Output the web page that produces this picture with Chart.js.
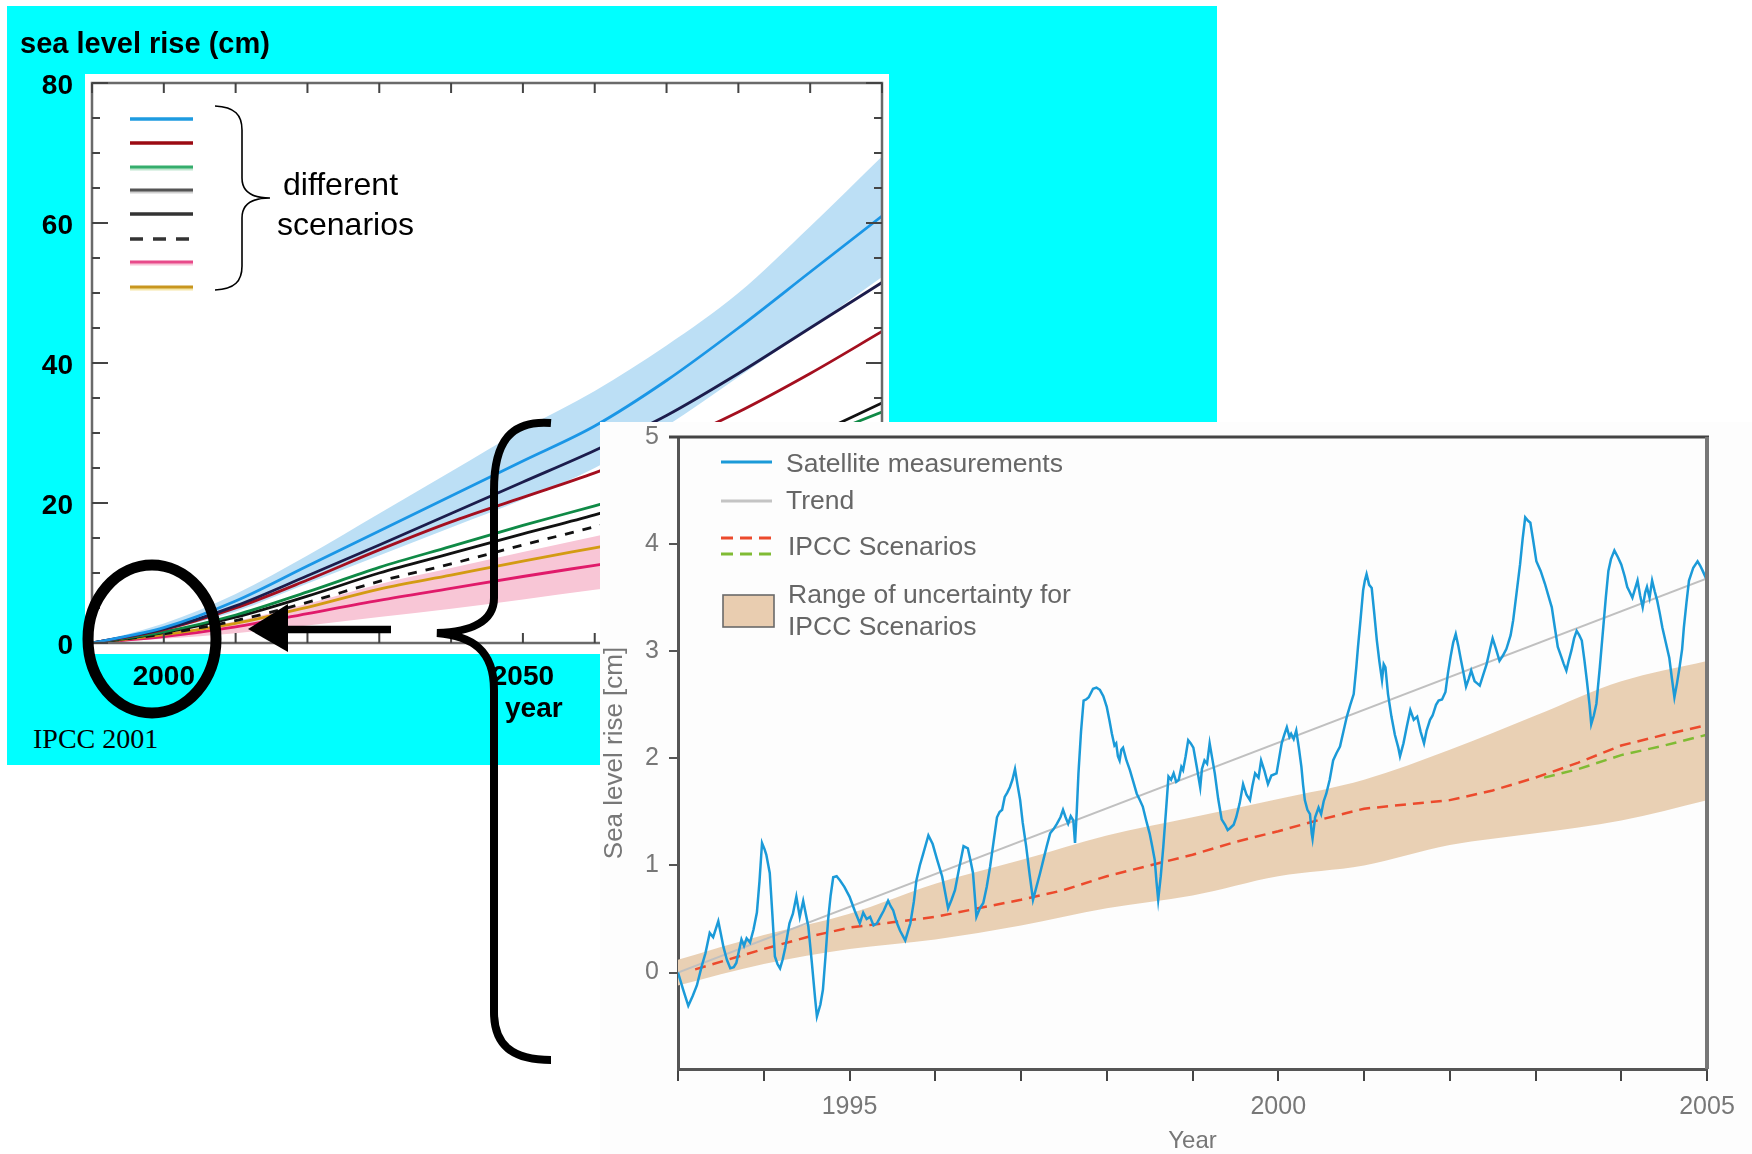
<!DOCTYPE html>
<html>
<head>
<meta charset="utf-8">
<title>Sea level rise</title>
<script src="https://cdn.jsdelivr.net/npm/chart.js@4.4.0/dist/chart.umd.min.js"></script>
<style>
  html, body { margin: 0; padding: 0; background: #fff; }
  body { width: 1752px; height: 1154px; position: relative; overflow: hidden;
         font-family: "Liberation Sans", Arial, sans-serif; }
  #cyan { position: absolute; left: 7px; top: 6px; width: 1210px; height: 759px; background: #00ffff; }
  #leftWrap { position: absolute; left: 0; top: 0; }
  #panel { position: absolute; left: 600px; top: 422px; width: 1152px; height: 732px; background: #fdfdfd; }
  #rightWrap { position: absolute; left: 600px; top: 412px; }
  .txt { position: absolute; white-space: nowrap; line-height: 1; }
  #over { position: absolute; left: 0; top: 0; pointer-events: none; }
</style>
</head>
<body>
<div id="cyan"></div>
<div id="leftWrap"><canvas id="leftChart" width="900" height="700"></canvas></div>

<div class="txt" style="left:20px; top:29px; font-size:29px; font-weight:bold;">sea level rise (cm)</div>
<div class="txt" style="left:283px; top:168px; font-size:32px;">different</div>
<div class="txt" style="left:277px; top:208px; font-size:32px;">scenarios</div>
<div class="txt" style="left:505px; top:694px; font-size:28px; font-weight:bold;">year</div>
<div class="txt" style="left:33px; top:725px; font-size:28px; font-family:'Liberation Serif','Times New Roman',serif;">IPCC 2001</div>

<div id="panel"></div>
<div id="rightWrap"><canvas id="rightChart" width="1152" height="742"></canvas></div>

<div class="txt" style="left:786px; top:450px; font-size:26.5px; color:#666;">Satellite measurements</div>
<div class="txt" style="left:786px; top:487px; font-size:26.5px; color:#666;">Trend</div>
<div class="txt" style="left:788px; top:533px; font-size:26.5px; color:#666;">IPCC Scenarios</div>
<div class="txt" style="left:788px; top:581px; font-size:26.5px; color:#666;">Range of uncertainty for</div>
<div class="txt" style="left:788px; top:613px; font-size:26.5px; color:#666;">IPCC Scenarios</div>

<svg id="over" width="1752" height="1154" viewBox="0 0 1752 1154">
  <!-- left legend swatches -->
  <line x1="130" y1="119" x2="193" y2="119" stroke="#1e9be0" stroke-width="3.5"/>
  <line x1="130" y1="143" x2="193" y2="143" stroke="#9b0a12" stroke-width="3.5"/>
  <line x1="130" y1="169" x2="193" y2="169" stroke="#bfe6cf" stroke-width="3"/>
  <line x1="130" y1="167" x2="193" y2="167" stroke="#35ad6c" stroke-width="3"/>
  <line x1="130" y1="192" x2="193" y2="192" stroke="#cfcfcf" stroke-width="3"/>
  <line x1="130" y1="190" x2="193" y2="190" stroke="#555" stroke-width="3"/>
  <line x1="130" y1="214" x2="193" y2="214" stroke="#333" stroke-width="3.5"/>
  <line x1="130" y1="239" x2="190" y2="239" stroke="#333" stroke-width="3.5" stroke-dasharray="13 10"/>
  <line x1="130" y1="264" x2="193" y2="264" stroke="#f8c6d8" stroke-width="3"/>
  <line x1="130" y1="262" x2="193" y2="262" stroke="#e84a8a" stroke-width="3"/>
  <line x1="130" y1="289" x2="193" y2="289" stroke="#f5e6a6" stroke-width="3"/>
  <line x1="130" y1="287" x2="193" y2="287" stroke="#c8961e" stroke-width="3"/>
  <path d="M215 106 C235 107 242 115 242 130 L242 178 C242 192 252 198 270 198 C252 198 242 204 242 218 L242 266 C242 281 235 289 215 290" fill="none" stroke="#000" stroke-width="1.6"/>

  <!-- right legend swatches -->
  <line x1="721" y1="462" x2="772" y2="462" stroke="#1b9ad8" stroke-width="3"/>
  <line x1="721" y1="501" x2="772" y2="501" stroke="#c4c4c4" stroke-width="3"/>
  <line x1="721" y1="538" x2="774" y2="538" stroke="#ec4a2c" stroke-width="3" stroke-dasharray="12 7"/>
  <line x1="721" y1="554" x2="774" y2="554" stroke="#80bb34" stroke-width="3" stroke-dasharray="12 7"/>
  <rect x="723" y="595" width="51" height="32" fill="#e9cdb0" stroke="#6a6a6a" stroke-width="1.6"/>

  <!-- annotations -->
  <ellipse cx="152" cy="639" rx="64" ry="74" fill="none" stroke="#000" stroke-width="11"/>
  <line x1="391" y1="629.5" x2="284" y2="629.5" stroke="#000" stroke-width="7.5"/>
  <polygon points="248,629 288,604 288,652" fill="#000"/>
  <path d="M551 423 C512 420 494 440 494 490 L494 598 C494 622 470 632 437 633 C472 636 494 650 494 690 L494 1012 C494 1045 512 1060 551 1060" fill="none" stroke="#000" stroke-width="8"/>
</svg>

<script>
// ---------- left chart (IPCC 2001 projections) ----------
const leftYears = [1990, 2000, 2010, 2020, 2030, 2040, 2050, 2060, 2070, 2080, 2090, 2100];
const blueUpper = [0, 2.8, 7, 12.5, 18.5, 24.5, 30.5, 36, 42.5, 50, 59.5, 69.5];
const blueLine  = [0, 2.2, 6, 11, 16, 21, 26, 31, 37.5, 45, 53, 61];
const blueLower = [0, 1.8, 4.5, 8.5, 12.5, 16.5, 20.5, 25, 31, 38, 45, 52.3];
const navyLine  = [0, 2.0, 5.3, 9.6, 14, 18.5, 23, 27.5, 32.5, 38.5, 45, 51.5];
const redLine   = [0, 1.9, 5, 9, 13.3, 17.3, 20.8, 24.3, 28.3, 33, 38.5, 44.5];
const greenLine = [0, 1.6, 4, 7.3, 10.8, 13.8, 16.8, 19.6, 22.5, 25.5, 29, 33];
const blackLine = [0, 1.5, 3.7, 6.7, 10, 12.8, 15.6, 18.3, 21.4, 25, 29.5, 34.3];
const dashLine  = [0, 1.3, 3.2, 5.8, 8.8, 11.3, 14, 16.6, 19.2, 22, 25, 28];
const goldLine  = [0, 1.2, 2.8, 5.1, 7.7, 9.7, 11.7, 13.6, 15.5, 17.5, 19.6, 21.8];
const pinkLine  = [0, 0.9, 2.3, 4.2, 6.1, 7.8, 9.5, 11.1, 12.7, 14.3, 16, 17.7];
const pinkUpper = [0, 1.3, 3.1, 5.6, 8.4, 10.7, 13, 15.2, 17.5, 19.8, 22, 24.5];
const pinkLower = [0, 0.6, 1.4, 2.5, 3.7, 4.9, 6.2, 7.6, 8.8, 10, 11.2, 12.4];

const xTicksLeft = [1990, 2000, 2010, 2020, 2030, 2040, 2050, 2060, 2070, 2080, 2090, 2100];
const xLabelsLeft = [2000, 2050];
const yTicksLeft = [0, 5, 10, 15, 20, 25, 30, 35, 40, 45, 50, 55, 60, 65, 70, 75, 80];

// ---------- right chart (satellite vs IPCC) ----------
const satYear = [
  1993.00,1993.06,1993.12,1993.17,1993.22,1993.28,1993.32,1993.37,1993.41,1993.47,1993.50,1993.53,1993.57,1993.61,1993.65,1993.68,
  1993.74,1993.77,1993.80,1993.84,1993.88,1993.92,1993.95,1993.98,1994.01,1994.03,1994.07,1994.10,1994.13,1994.16,1994.19,1994.22,
  1994.25,1994.30,1994.34,1994.38,1994.42,1994.46,1994.49,1994.52,1994.56,1994.60,1994.62,1994.66,1994.69,1994.72,1994.75,1994.78,
  1994.81,1994.85,1994.89,1994.94,1995.00,1995.06,1995.12,1995.16,1995.20,1995.24,1995.28,1995.32,1995.36,1995.40,1995.45,1995.48,
  1995.51,1995.55,1995.59,1995.65,1995.68,1995.71,1995.75,1995.78,1995.82,1995.86,1995.92,1995.97,1996.02,1996.08,1996.15,1996.19,
  1996.23,1996.28,1996.33,1996.38,1996.41,1996.44,1996.48,1996.52,1996.56,1996.60,1996.64,1996.68,1996.72,1996.75,1996.78,1996.81,
  1996.84,1996.87,1996.90,1996.93,1996.96,1996.99,1997.02,1997.06,1997.10,1997.14,1997.18,1997.22,1997.26,1997.30,1997.34,1997.38,
  1997.42,1997.46,1997.49,1997.52,1997.55,1997.58,1997.61,1997.63,1997.65,1997.67,1997.70,1997.73,1997.76,1997.79,1997.84,1997.88,
  1997.92,1997.96,1998.00,1998.03,1998.06,1998.09,1998.11,1998.13,1998.15,1998.17,1998.19,1998.23,1998.27,1998.31,1998.35,1998.38,
  1998.42,1998.46,1998.50,1998.53,1998.56,1998.58,1998.60,1998.63,1998.66,1998.69,1998.72,1998.75,1998.78,1998.81,1998.84,1998.87,
  1998.89,1998.92,1998.95,1998.98,1999.01,1999.05,1999.09,1999.11,1999.14,1999.17,1999.20,1999.23,1999.26,1999.30,1999.34,1999.38,
  1999.41,1999.44,1999.48,1999.51,1999.55,1999.59,1999.63,1999.67,1999.70,1999.73,1999.77,1999.80,1999.84,1999.88,1999.92,1999.98,
  2000.01,2000.04,2000.07,2000.10,2000.13,2000.15,2000.18,2000.21,2000.24,2000.27,2000.29,2000.31,2000.34,2000.37,2000.39,2000.40,
  2000.43,2000.47,2000.50,2000.53,2000.56,2000.60,2000.64,2000.68,2000.72,2000.76,2000.80,2000.84,2000.88,2000.91,2000.93,2000.96,
  2000.99,2001.01,2001.03,2001.06,2001.09,2001.12,2001.15,2001.18,2001.21,2001.23,2001.25,2001.28,2001.32,2001.36,2001.40,2001.42,
  2001.46,2001.50,2001.54,2001.58,2001.62,2001.66,2001.70,2001.73,2001.77,2001.80,2001.84,2001.87,2001.91,2001.95,2001.98,2002.01,
  2002.04,2002.07,2002.10,2002.13,2002.16,2002.19,2002.22,2002.25,2002.29,2002.32,2002.35,2002.39,2002.43,2002.47,2002.50,2002.54,
  2002.58,2002.62,2002.66,2002.68,2002.71,2002.74,2002.78,2002.82,2002.85,2002.88,2002.91,2002.94,2002.97,2003.01,2003.06,2003.11,
  2003.15,2003.19,2003.22,2003.26,2003.30,2003.33,2003.36,2003.39,2003.42,2003.45,2003.48,2003.51,2003.54,2003.57,2003.60,2003.63,
  2003.65,2003.68,2003.71,2003.75,2003.79,2003.82,2003.85,2003.88,2003.92,2003.96,2004.00,2004.04,2004.07,2004.10,2004.13,2004.16,
  2004.19,2004.22,2004.25,2004.28,2004.30,2004.33,2004.36,2004.39,2004.42,2004.45,2004.48,2004.52,2004.56,2004.59,2004.62,2004.65,
  2004.68,2004.71,2004.73,2004.76,2004.79,2004.84,2004.89,2004.92,2004.95,2005.00
];
const satLevel = [
  0.00,-0.16,-0.31,-0.22,-0.12,0.07,0.18,0.37,0.33,0.48,0.36,0.24,0.12,0.04,0.05,0.09,
  0.31,0.25,0.32,0.28,0.40,0.56,0.85,1.21,1.15,1.10,0.93,0.55,0.15,0.08,0.04,0.12,
  0.23,0.46,0.55,0.71,0.52,0.67,0.55,0.43,0.10,-0.25,-0.41,-0.30,-0.16,0.15,0.49,0.72,
  0.89,0.90,0.86,0.80,0.71,0.58,0.46,0.56,0.50,0.52,0.44,0.46,0.52,0.58,0.67,0.62,
  0.58,0.47,0.39,0.30,0.38,0.46,0.66,0.86,1.00,1.11,1.28,1.20,1.06,0.90,0.60,0.68,
  0.77,0.98,1.18,1.16,1.05,0.93,0.52,0.60,0.65,0.80,0.99,1.22,1.45,1.50,1.52,1.64,
  1.68,1.73,1.80,1.90,1.75,1.61,1.40,1.18,0.92,0.68,0.80,0.92,1.05,1.18,1.30,1.34,
  1.39,1.45,1.52,1.45,1.39,1.46,1.42,1.21,1.50,1.86,2.25,2.54,2.55,2.57,2.65,2.66,
  2.64,2.58,2.48,2.36,2.23,2.12,2.14,2.02,1.98,2.08,2.10,1.98,1.89,1.78,1.67,1.62,
  1.55,1.42,1.30,1.18,1.05,0.85,0.68,0.90,1.18,1.50,1.83,1.80,1.86,1.78,1.80,1.92,
  1.89,2.02,2.17,2.14,2.10,1.92,1.73,1.90,1.98,1.95,2.14,2.00,1.86,1.62,1.43,1.38,
  1.33,1.35,1.38,1.45,1.58,1.76,1.66,1.61,1.75,1.86,1.82,1.98,1.88,1.76,1.84,1.86,
  2.00,2.14,2.22,2.29,2.20,2.23,2.18,2.26,2.10,1.92,1.75,1.61,1.52,1.48,1.30,1.25,
  1.45,1.54,1.48,1.60,1.67,1.80,1.98,2.05,2.11,2.25,2.39,2.50,2.60,2.85,3.04,3.30,
  3.57,3.66,3.72,3.62,3.59,3.35,3.10,2.90,2.73,2.88,2.85,2.60,2.39,2.22,2.10,2.02,
  2.14,2.30,2.45,2.36,2.39,2.25,2.14,2.26,2.36,2.40,2.50,2.54,2.55,2.62,2.80,2.95,
  3.08,3.16,3.05,2.92,2.80,2.67,2.74,2.82,2.72,2.70,2.68,2.78,2.88,3.02,3.12,3.02,
  2.91,2.96,3.02,3.07,3.15,3.29,3.55,3.81,4.05,4.25,4.22,4.20,4.05,3.84,3.75,3.63,
  3.52,3.41,3.25,3.04,2.95,2.88,2.82,2.92,3.01,3.12,3.19,3.15,3.10,2.92,2.72,2.50,
  2.32,2.40,2.51,2.85,3.22,3.50,3.75,3.86,3.94,3.88,3.81,3.70,3.60,3.55,3.50,3.58,
  3.66,3.52,3.41,3.55,3.60,3.50,3.66,3.56,3.47,3.35,3.22,3.08,2.94,2.75,2.57,2.70,
  2.85,3.02,3.22,3.45,3.66,3.78,3.84,3.80,3.75,3.66
];
const trendYear = [1993, 2005];
const trendLevel = [0.0, 3.68];
const ipccYear = [1993.2, 1994, 1994.5, 1995, 1995.5, 1996, 1996.5, 1997, 1997.5, 1998, 1998.5, 1999,
                  1999.5, 2000, 2000.5, 2001, 2001.5, 2002, 2002.5, 2003, 2003.5, 2004, 2004.5, 2005];
const ipccRed = [0.03, 0.22, 0.33, 0.42, 0.47, 0.52, 0.6, 0.68, 0.77, 0.9, 1.0, 1.1,
                 1.22, 1.32, 1.43, 1.53, 1.57, 1.61, 1.7, 1.82, 1.96, 2.12, 2.22, 2.31];
const ipccGreenYear = [2003.1, 2003.5, 2004, 2004.5, 2005];
const ipccGreen = [1.82, 1.9, 2.03, 2.12, 2.22];
const rangeYear = [1993, 1994, 1995, 1996, 1997, 1998, 1999, 2000, 2001, 2002, 2003, 2004, 2005];
const rangeUpper = [0.12, 0.35, 0.55, 0.83, 1.05, 1.28, 1.45, 1.62, 1.80, 2.08, 2.40, 2.72, 2.91];
const rangeLower = [-0.12, 0.08, 0.22, 0.31, 0.44, 0.60, 0.72, 0.90, 1.00, 1.19, 1.30, 1.42, 1.61];

const xLabelsRight = [1995, 2000, 2005];
const yTicksRight = [0, 1, 2, 3, 4, 5];

Chart.defaults.font.family = '"Liberation Sans", Arial, sans-serif';

function pts(xs, ys) {
  return xs.map((x, i) => ({ x: x, y: ys[i] }));
}

const leftFrame = {
  id: 'leftFrame',
  beforeDraw(chart) {
    const c = chart.ctx;
    c.save();
    c.fillStyle = '#ffffff';
    c.fillRect(85, 74, 804, 580);
    c.restore();
  },
  afterDatasetsDraw(chart) {
    const { ctx, chartArea: a, scales: { x, y } } = chart;
    ctx.save();
    ctx.strokeStyle = '#6a6a6a';
    ctx.lineWidth = 2.5;
    ctx.strokeRect(a.left, a.top, a.right - a.left, a.bottom - a.top);
    ctx.strokeStyle = '#444';
    ctx.lineWidth = 2;
    ctx.beginPath();
    xTicksLeft.forEach(v => {
      const px = x.getPixelForValue(v);
      ctx.moveTo(px, a.bottom); ctx.lineTo(px, a.bottom - 10);
      ctx.moveTo(px, a.top); ctx.lineTo(px, a.top + 10);
    });
    yTicksLeft.forEach(v => {
      const py = y.getPixelForValue(v);
      const len = v % 20 === 0 ? 16 : 8;
      ctx.moveTo(a.left, py); ctx.lineTo(a.left + len, py);
      ctx.moveTo(a.right, py); ctx.lineTo(a.right - len, py);
    });
    ctx.stroke();
    ctx.restore();
  }
};

function lineSet(data, color, dash) {
  return {
    data: pts(leftYears, data),
    borderColor: color,
    borderWidth: 2.8,
    borderDash: dash || [],
    pointRadius: 0,
    fill: false,
    cubicInterpolationMode: 'monotone'
  };
}

new Chart(document.getElementById('leftChart'), {
  type: 'line',
  data: {
    datasets: [
      lineSet(blueLine, '#1a96e6'),
      lineSet(navyLine, '#1c1c4c'),
      lineSet(redLine, '#a40f1f'),
      lineSet(greenLine, '#0f8a46'),
      lineSet(blackLine, '#111111'),
      lineSet(dashLine, '#111111', [9, 9]),
      lineSet(goldLine, '#d39b12'),
      lineSet(pinkLine, '#e01a6a'),
      { data: pts(leftYears, blueUpper), borderWidth: 0, pointRadius: 0, fill: '+1',
        backgroundColor: '#bcdff5', cubicInterpolationMode: 'monotone' },
      { data: pts(leftYears, blueLower), borderWidth: 0, pointRadius: 0, fill: false,
        cubicInterpolationMode: 'monotone' },
      { data: pts(leftYears, pinkUpper), borderWidth: 0, pointRadius: 0, fill: '+1',
        backgroundColor: '#f8c6d6', cubicInterpolationMode: 'monotone' },
      { data: pts(leftYears, pinkLower), borderWidth: 0, pointRadius: 0, fill: false,
        cubicInterpolationMode: 'monotone' }
    ]
  },
  options: {
    responsive: false,
    animation: false,
    layout: { padding: { left: 0, top: 83, right: 18, bottom: 0 } },
    plugins: { legend: { display: false }, tooltip: { enabled: false } },
    scales: {
      x: {
        type: 'linear', min: 1990, max: 2100,
        afterFit: s => { s.height = 57; },
        grid: { display: false, drawTicks: false },
        border: { display: false },
        ticks: {
          stepSize: 10, autoSkip: false, maxRotation: 0, padding: 17, color: '#000',
          font: { size: 28, weight: 'bold' },
          callback: v => xLabelsLeft.includes(v) ? String(v) : ''
        }
      },
      y: {
        type: 'linear', min: 0, max: 80,
        afterFit: s => { s.width = 92; },
        grid: { display: false, drawTicks: false },
        border: { display: false },
        ticks: { stepSize: 20, padding: 19, labelOffset: 3, color: '#000', font: { size: 28, weight: 'bold' } }
      }
    }
  },
  plugins: [leftFrame]
});

const rightFrame = {
  id: 'rightFrame',
  afterDraw(chart) {
    const { ctx, chartArea: a } = chart;
    ctx.save();
    ctx.strokeStyle = '#444';
    ctx.lineWidth = 3;
    ctx.beginPath();
    ctx.moveTo(a.left - 9, a.top); ctx.lineTo(a.right + 2, a.top);
    ctx.stroke();
    ctx.strokeStyle = '#777';
    ctx.lineWidth = 4;
    ctx.beginPath();
    ctx.moveTo(a.right, a.top); ctx.lineTo(a.right, a.bottom);
    ctx.stroke();
    ctx.restore();
  }
};

new Chart(document.getElementById('rightChart'), {
  type: 'line',
  data: {
    datasets: [
      { label: 'Satellite measurements', data: pts(satYear, satLevel), borderColor: '#1b9ad8',
        borderWidth: 2.5, pointRadius: 0, fill: false },
      { label: 'Trend', data: pts(trendYear, trendLevel), borderColor: '#c0c0c0',
        borderWidth: 2, pointRadius: 0, fill: false },
      { label: 'IPCC Scenarios', data: pts(ipccYear, ipccRed), borderColor: '#ec4a2c',
        borderWidth: 2.5, borderDash: [11, 7], pointRadius: 0, fill: false },
      { label: 'IPCC Scenarios (2)', data: pts(ipccGreenYear, ipccGreen), borderColor: '#80bb34',
        borderWidth: 2.5, borderDash: [11, 7], pointRadius: 0, fill: false },
      { label: 'Range upper', data: pts(rangeYear, rangeUpper), borderWidth: 0, pointRadius: 0,
        fill: '+1', backgroundColor: '#e9d0b4', cubicInterpolationMode: 'monotone' },
      { label: 'Range lower', data: pts(rangeYear, rangeLower), borderWidth: 0, pointRadius: 0,
        fill: false, cubicInterpolationMode: 'monotone' }
    ]
  },
  options: {
    responsive: false,
    animation: false,
    layout: { padding: { left: 0, top: 24, right: 45, bottom: 0 } },
    plugins: { legend: { display: false }, tooltip: { enabled: false } },
    scales: {
      x: {
        type: 'linear', min: 1993, max: 2005,
        afterFit: s => { s.height = 85; },
        grid: { drawOnChartArea: false, drawTicks: true, tickLength: 12, color: '#444', lineWidth: 2 },
        border: { display: true, color: '#555', width: 3 },
        ticks: {
          stepSize: 1, autoSkip: false, maxRotation: 0, padding: 11, color: '#777',
          font: { size: 25 },
          callback: v => xLabelsRight.includes(v) ? String(v) : ''
        },
        title: { display: true, text: 'Year', color: '#777', font: { size: 24, lineHeight: 1 },
                 padding: { top: 0, bottom: 1 } }
      },
      y: {
        type: 'linear', min: -0.9, max: 5,
        afterFit: s => { s.width = 78; },
        afterBuildTicks: s => { s.ticks = yTicksRight.map(v => ({ value: v })); },
        grid: { drawOnChartArea: false, drawTicks: true, tickLength: 9, color: '#555', lineWidth: 2 },
        border: { display: true, color: '#555', width: 3 },
        ticks: { padding: 10, color: '#777', font: { size: 25 } },
        title: { display: true, text: 'Sea level rise [cm]', color: '#777',
                 font: { size: 26, lineHeight: 1 }, padding: { top: 2, bottom: 0 } }
      }
    }
  },
  plugins: [rightFrame]
});
</script>
</body>
</html>
